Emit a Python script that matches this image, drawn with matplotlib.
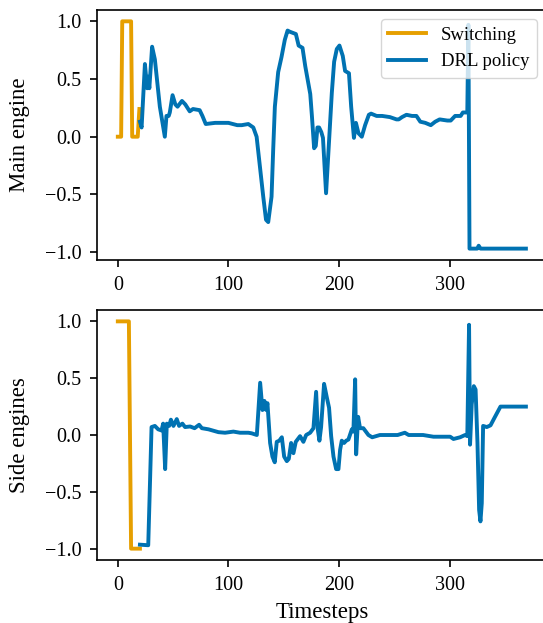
import numpy as np
import matplotlib
matplotlib.use("Agg")
import matplotlib.pyplot as plt

plt.rcParams['font.family'] = ['Liberation Serif', 'DejaVu Serif']
plt.rcParams['axes.linewidth'] = 1.2

COR_SWITCH = '#E69F00'
COR_DRL = '#0072B2'

# main engine - switching
t_main_sw = [0, 3, 4, 12, 13, 18, 19.5]
v_main_sw = [0.0, 0.0, 1.0, 1.0, 0.0, 0.0, 0.24]

# main engine - DRL policy
t_main_drl = [20, 21.5, 24.5, 26.5, 27.5, 28.5, 31, 33.5, 38, 42.5, 44, 46, 47, 49.5, 52, 54,
              58, 61, 65, 68, 74, 76.5, 79.5, 88, 100, 104, 108, 112, 118, 122.5, 125.5,
              128.5, 131.5, 134, 136, 139, 140.5, 142, 145, 148, 151, 153.5, 155.5, 161,
              163.5, 167, 169.5, 174, 175.5, 177.5, 179, 180.5, 182, 184, 185.5, 188.3,
              193.5, 195.6, 198, 200.4, 203.4, 205.5, 209, 211, 213.5, 215.3, 217.6, 220.6,
              223.6, 227, 229, 234, 239, 246, 252, 254, 257, 261, 266, 270, 273.5, 278,
              283, 287, 291, 298, 301, 305, 310, 312, 316, 317, 318, 325, 326.3, 328, 369]
v_main_drl = [0.13, 0.08, 0.63, 0.42, 0.52, 0.42, 0.78, 0.67, 0.26, 0.0, 0.18, 0.18, 0.21, 0.36,
              0.28, 0.26, 0.31, 0.28, 0.22, 0.24, 0.23, 0.18, 0.11, 0.12, 0.12, 0.11, 0.1, 0.1,
              0.11, 0.08, 0.0, -0.26, -0.52, -0.72, -0.74, -0.52, -0.11, 0.26, 0.56, 0.69,
              0.84, 0.92, 0.91, 0.89, 0.79, 0.77, 0.61, 0.37, 0.18, -0.1, -0.08, 0.08, 0.08,
              0.04, -0.01, -0.49, 0.38, 0.65, 0.76, 0.79, 0.7, 0.57, 0.55, 0.26, -0.01, 0.12,
              0.03, 0.0, 0.1, 0.19, 0.2, 0.18, 0.18, 0.17, 0.15, 0.15, 0.17, 0.19, 0.18, 0.18,
              0.13, 0.12, 0.1, 0.13, 0.15, 0.14, 0.14, 0.18, 0.18, 0.21, 0.21, 0.97, -0.97,
              -0.97, -0.945, -0.97, -0.97]

# side engines - switching
t_side_sw = [0, 10, 12, 20]
v_side_sw = [1.0, 1.0, -1.0, -1.0]

# side engines - DRL policy
t_side_drl = [20, 27.5, 30.5, 33.5, 36.5, 39.5, 41, 42.8, 44.3, 46.4, 48, 50.3, 53.3, 55.4, 58.4,
              60.8, 65.4, 69.4, 73.5, 76, 82, 91, 97, 104.5, 110.5, 118, 121, 125.7, 128.7,
              130.8, 132.6, 134.1, 135.3, 137.7, 139.8, 141.9, 143.7, 146, 148.3, 150.4,
              152.8, 154.6, 156.7, 158.8, 160.9, 164.8, 167.8, 170.3, 173.9, 176.9, 179.3,
              180.8, 182.3, 183.8, 186.5, 189, 191, 192.9, 195, 197.4, 199.5, 201, 202.5,
              204.6, 206.5, 208.5, 211.6, 213, 214.6, 215.5, 217.3, 219, 222, 226.6, 230,
              237, 246, 253, 259.5, 263, 276, 285.4, 300.5, 303.5, 309.5, 314, 316, 317.6,
              318.5, 320, 321.9, 323.5, 325.2, 326.7, 327.9, 329.1, 330.3, 333.6, 337,
              340.5, 346, 369]
v_side_drl = [-0.965, -0.97, 0.07, 0.08, 0.05, 0.04, 0.1, -0.3, 0.1, 0.08, 0.135, 0.08, 0.14,
              0.08, 0.1, 0.07, 0.075, 0.06, 0.09, 0.06, 0.05, 0.025, 0.02, 0.03, 0.02, 0.02,
              0.015, 0.0, 0.46, 0.22, 0.3, 0.22, 0.28, -0.07, -0.19, -0.24, -0.06, -0.05,
              -0.02, -0.19, -0.23, -0.21, -0.07, -0.16, -0.06, -0.01, -0.06, 0.0, 0.02, 0.06,
              0.38, 0.05, -0.05, 0.07, 0.45, 0.33, 0.24, -0.01, -0.19, -0.3, -0.3, -0.13,
              -0.05, -0.07, -0.05, -0.04, 0.05, 0.03, 0.49, -0.17, 0.16, 0.06, 0.06, 0.0,
              -0.02, 0.0, 0.0, 0.0, 0.02, 0.0, 0.0, -0.015, -0.015, -0.035, -0.02, 0.0, -0.01,
              0.97, -0.085, 0.27, 0.43, 0.4, -0.07, -0.66, -0.76, -0.6, 0.08, 0.07, 0.085,
              0.15, 0.25, 0.25]

fig = plt.figure(figsize=(5.43, 6.23), dpi=100)
ax1 = fig.add_axes([0.1794, 0.5827, 0.8267, 0.4013])
ax2 = fig.add_axes([0.1794, 0.1011, 0.8267, 0.4013])

lw = 2.8
ax1.plot(t_main_sw, v_main_sw, color=COR_SWITCH, lw=lw, label='Switching')
ax1.plot(t_main_drl, v_main_drl, color=COR_DRL, lw=lw, label='DRL policy')
ax2.plot(t_side_sw, v_side_sw, color=COR_SWITCH, lw=lw)
ax2.plot(t_side_drl, v_side_drl, color=COR_DRL, lw=lw)

for ax in (ax1, ax2):
    ax.set_xticks([0, 100, 200, 300])
    ax.set_yticks([-1.0, -0.5, 0.0, 0.5, 1.0])
    ax.tick_params(labelsize=14.5, length=5, width=1.2, pad=6.5)

ax1.set_ylabel('Main engine', fontsize=16.5, labelpad=10.5)
ax2.set_ylabel('Side engines', fontsize=16.5, labelpad=10.5)
ax2.set_xlabel('Timesteps', fontsize=16.5, labelpad=5)

ax1.legend(loc='upper right', fontsize=13.5)

fig.savefig('out.png', dpi=100)
